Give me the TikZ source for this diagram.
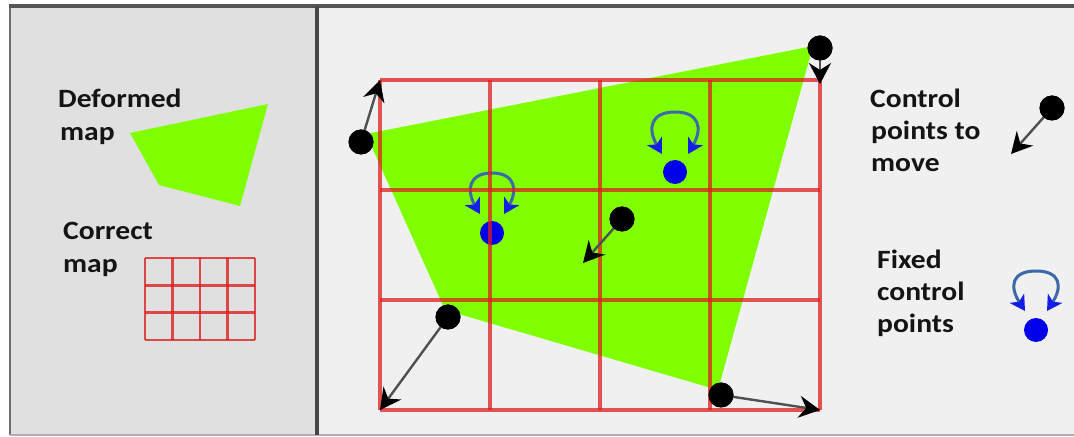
\documentclass[tikz,border=0pt]{standalone}
\usepackage{fontspec}
\setmainfont{Carlito}[FakeStretch=1.12]
\usetikzlibrary{arrows.meta}
\definecolor{mapgreen}{RGB}{128,255,0}
\definecolor{leftbg}{RGB}{224,224,224}
\definecolor{rightbg}{RGB}{240,240,240}
\definecolor{gridred}{RGB}{220,30,30}
\definecolor{loopline}{RGB}{60,105,170}
\definecolor{loophead}{RGB}{20,30,230}
\definecolor{dotblue}{RGB}{0,0,235}
\definecolor{txt}{RGB}{20,20,20}
\definecolor{shaft}{RGB}{80,80,80}
\definecolor{frameA}{RGB}{110,110,110}
\definecolor{frameB}{RGB}{175,175,175}
\definecolor{frameC}{RGB}{85,85,85}
\definecolor{frameD}{RGB}{70,70,70}
\tikzset{
  lbl/.style={anchor=base west, inner sep=0pt, text=txt, font=\fontsize{26.5}{33}\selectfont\bfseries},
  bdot/.style={circle, fill=black, minimum size=25bp, inner sep=0pt},
  bldot/.style={circle, fill=dotblue, minimum size=24bp, inner sep=0pt},
  marrow/.style={draw=shaft, line width=2.4bp, shorten <=-2bp,
    -{Stealth[length=21bp, width=22bp, inset=7bp, color=black]}},
  looparrow/.style={draw=loopline, line width=3bp,
    {Stealth[length=15bp, width=17bp, inset=4bp, color=loophead]}-{Stealth[length=15bp, width=17bp, inset=4bp, color=loophead]}},
  gridline/.style={draw=gridred, draw opacity=0.75, line width=3.2bp},
  smallgrid/.style={draw=gridred, draw opacity=0.78, line width=2.6bp},
}
\begin{document}
\begin{tikzpicture}[x=1bp, y=-1bp]
\useasboundingbox (0,0) rectangle (1074,437);
\fill[white] (0,0) rectangle (1074,437);
% panels
\fill[leftbg] (10,6) rectangle (317,435);
\fill[rightbg] (317,6) rectangle (1074,435);
\draw[line width=2bp, frameA] (10,6) -- (10,435);
\draw[line width=2.5bp, frameB] (10,435) -- (1074,435);
\draw[line width=3.5bp, frameC] (9,6) -- (1074,6);
\draw[line width=3.5bp, frameD] (317,6) -- (317,435);

% ---------- left panel ----------
\node[lbl] (deformed1) at (58,108) {Deformed};
\node[lbl] (deformed2) at (60,141) {map};
\fill[mapgreen] (130,133) -- (268,104) -- (240,206) -- (159,185) -- cycle;
\node[lbl] (correct1) at (63,240) {Correct};
\node[lbl] (correct2) at (63,273) {map};
\foreach \x in {145,172.5,200,227.5,255} \draw[smallgrid] (\x,258) -- (\x,340);
\foreach \y in {258,285.3,312.7,340} \draw[smallgrid] (145,\y) -- (255,\y);

% ---------- right panel ----------
\fill[mapgreen] (366,134) -- (813,46) -- (718,390) -- (445,310) -- cycle;

% fixed control points (blue)
\node[bldot] (f1) at (675,172) {};
\draw[looparrow] (662,154) .. controls (647,128) and (651,112) .. (675,112)
                 .. controls (699,112) and (703,128) .. (688,154);
\node[bldot] (f2) at (492,233) {};
\draw[looparrow] (480,214) .. controls (466,190) and (469,173) .. (492,173)
                 .. controls (515,173) and (518,190) .. (504,214);

% grid
\foreach \i/\x in {0/380,1/490,2/600,3/710,4/820}{
  \foreach \j/\y in {0/80,1/190,2/300,3/410}{
    \coordinate (g\i\j) at (\x,\y);
  }
}
\foreach \i in {0,...,4} \draw[gridline] (g\i0) -- (g\i3);
\foreach \j in {0,...,3} \draw[gridline] (g0\j) -- (g4\j);

% control points to move
\coordinate (t5) at (583,263);
\node[bdot] (m1) at (361,142) {};
\node[bdot] (m2) at (820,48) {};
\node[bdot] (m3) at (448,317) {};
\node[bdot] (m4) at (721,395) {};
\node[bdot] (m5) at (622,219) {};
\coordinate (t2) at (820,84);
\draw[marrow] (m1) -- (g00);
\draw[marrow] (m2) -- (t2);
\draw[marrow] (m3) -- (g03);
\draw[marrow] (m4) -- (g43);
\draw[marrow] (m5) -- (t5);
\node[bdot] at (m1) {};
\node[bdot] at (m2) {};
\node[bdot] at (m3) {};
\node[bdot] at (m4) {};
\node[bdot] at (m5) {};

% ---------- legend ----------
\node[lbl] (ctrl1) at (870,108) {Control};
\node[lbl] (ctrl2) at (871,140) {points to};
\node[lbl] (ctrl3) at (871,172) {move};
\node[bdot] (lm) at (1052,108) {};
\coordinate (lt) at (1011,154);
\draw[marrow] (lm) -- (lt);
\node[bdot] at (lm) {};

\node[lbl] (fix1) at (877,269) {Fixed};
\node[lbl] (fix2) at (877,301) {control};
\node[lbl] (fix3) at (877,333) {points};
\node[bldot] (lf) at (1036,330) {};
\draw[looparrow] (1025,311) .. controls (1009,286) and (1012,271) .. (1036,271)
                 .. controls (1060,271) and (1063,286) .. (1047,311);
\end{tikzpicture}
\end{document}
